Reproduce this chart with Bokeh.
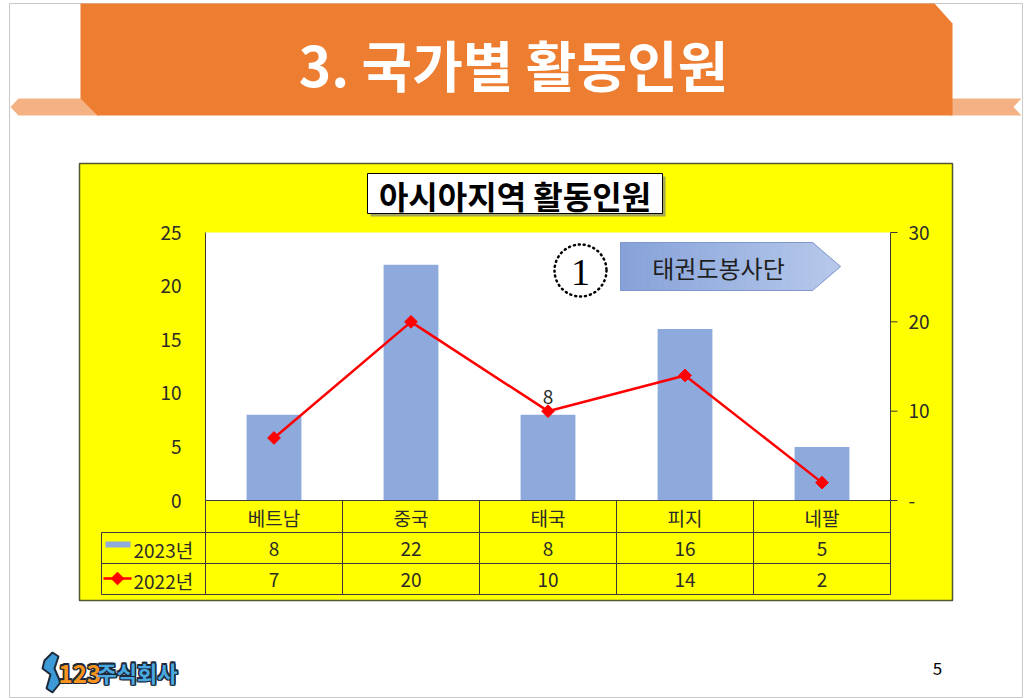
import numpy as np
from bokeh.plotting import figure
from bokeh.models import Range1d
from bokeh.core.properties import value
from bokeh.embed import file_html
from bokeh.resources import INLINE

# ---------------- data ----------------
categories = ["베트남", "중국", "태국", "피지", "네팔"]
series_2023_name = "2023년"
series_2022_name = "2022년"
values_2023 = [8, 22, 8, 16, 5]
values_2022 = [7, 20, 10, 14, 2]
left_ticks = [0, 5, 10, 15, 20, 25]
left_tick_labels = ["0", "5", "10", "15", "20", "25"]
right_ticks = [0, 10, 20, 30]
right_tick_labels = ["-", "10", "20", "30"]
slide_title = "3. 국가별 활동인원"
chart_title = "아시아지역 활동인원"
callout_number = "1"
callout_text = "태권도봉사단"
odd_label_category = "태국"
odd_label_text = "8"
page_number = "5"
logo_num = "123"
logo_word = "주식회사"

# ---------------- layout ----------------
W, H = 1029, 698
PL, PR, PT, PB = 205, 890, 232, 500      # plot area (pixels)
LEFT_MAX, RIGHT_MAX = 25, 30
ROW1, ROW2, ROW3, ROW4 = 500, 532, 563, 594
LEG_L = 101
FONT = "Noto Sans CJK KR"
TXT = "#2b2b2b"
GRID = "#3a3a3a"
NUM_FS = "19px"
TAB_FS = "19px"

n = len(categories)
idx = list(range(n))


def ext_range(va, pa, vb, pb, p_start, p_end):
    k = (vb - va) / (pb - pa)
    return Range1d(start=va + (p_start - pa) * k, end=va + (p_end - pa) * k)


p = figure(width=W, height=H, x_range=Range1d(0, W), y_range=Range1d(H, 0),
           output_backend="svg", toolbar_location=None, title=None,
           x_axis_type=None, y_axis_type=None, min_border=0,
           outline_line_color=None, background_fill_color="white",
           border_fill_color="white")
p.extra_x_ranges = {"cat": ext_range(-0.5, PL, n - 0.5, PR, 0, W)}
p.extra_y_ranges = {
    "left": ext_range(0, PB, LEFT_MAX, PT, H, 0),
    "right": ext_range(0, PB, RIGHT_MAX, PT, H, 0),
}

# slide frame
p.quad(left=9, right=1022, top=3, bottom=697, fill_color=None, line_color="#C8C8C8", line_width=1)

# ribbons + banner
p.patch([10, 18, 82, 99, 18], [106.5, 98, 98, 115, 115], fill_color="#F4B183", line_color=None)
p.patch([950, 1021, 1013, 1021, 950], [98, 98, 106.5, 115, 115], fill_color="#F4B183", line_color=None)
p.patch([80, 934, 952, 952, 97, 80], [3, 3, 23, 115, 115, 98], fill_color="#ED7D31", line_color=None)
p.text(x=[513], y=[62], text=[slide_title], text_color="white", text_font=value(FONT),
       text_font_style="bold", text_font_size="55px", text_align="center", text_baseline="middle")

# yellow chart box
p.quad(left=79, right=952, top=163, bottom=600, fill_color="#FFFF00", line_color="#555533", line_width=1.5)
p.quad(left=PL, right=PR, top=PT, bottom=PB, fill_color="white", line_color=None)

# bars & line
p.vbar(x=idx, top=values_2023, bottom=0, width=0.4, fill_color="#8EA9DB", line_color=None,
       x_range_name="cat", y_range_name="left")
p.line(x=idx, y=values_2022, line_color="#FF0000", line_width=2.5,
       x_range_name="cat", y_range_name="right")
p.scatter(x=idx, y=values_2022, marker="square", angle=np.pi / 4, size=9,
          fill_color="#FF0000", line_color="#FF0000", x_range_name="cat", y_range_name="right")
oi = categories.index(odd_label_category)
p.text(x=[oi], y=[values_2022[oi]], text=[odd_label_text], y_offset=-14, text_color=TXT,
       text_font=value(FONT), text_font_size=NUM_FS, text_align="center", text_baseline="middle",
       x_range_name="cat", y_range_name="right")

# axes
p.segment(x0=[PL], y0=[PT], x1=[PL], y1=[PB], line_color=GRID, line_width=1)
p.segment(x0=[PR], y0=[PT], x1=[PR], y1=[PB], line_color=GRID, line_width=1)
p.segment(x0=[PR] * len(right_ticks), x1=[PR + 7] * len(right_ticks), y0=right_ticks, y1=right_ticks,
          line_color=GRID, line_width=1, y_range_name="right")
p.text(x=[181] * len(left_ticks), y=left_ticks, text=left_tick_labels, text_color=TXT,
       text_font=value(FONT), text_font_size=NUM_FS, text_align="right", text_baseline="middle",
       y_range_name="left")
p.text(x=[908] * len(right_ticks), y=right_ticks, text=right_tick_labels, text_color=TXT,
       text_font=value(FONT), text_font_size=NUM_FS, text_align="left", text_baseline="middle",
       y_range_name="right")

# data table
p.segment(x0=[PL, LEG_L, LEG_L, LEG_L], x1=[PR] * 4, y0=[ROW1, ROW2, ROW3, ROW4],
          y1=[ROW1, ROW2, ROW3, ROW4], line_color=GRID, line_width=1)
p.segment(x0=[LEG_L], x1=[LEG_L], y0=[ROW2], y1=[ROW4], line_color=GRID, line_width=1)
bounds = [i - 0.5 for i in range(n + 1)]
p.segment(x0=bounds, x1=bounds, y0=[ROW1] * (n + 1), y1=[ROW4] * (n + 1), line_color=GRID,
          line_width=1, x_range_name="cat")
p.text(x=idx, y=[(ROW1 + ROW2) / 2 + 1] * n, text=categories, text_color=TXT, text_font=value(FONT),
       text_font_size=TAB_FS, text_align="center", text_baseline="middle", x_range_name="cat")
p.text(x=idx, y=[(ROW2 + ROW3) / 2 + 1] * n, text=[str(v) for v in values_2023], text_color=TXT,
       text_font=value(FONT), text_font_size=TAB_FS, text_align="center", text_baseline="middle",
       x_range_name="cat")
p.text(x=idx, y=[(ROW3 + ROW4) / 2 + 1] * n, text=[str(v) for v in values_2022], text_color=TXT,
       text_font=value(FONT), text_font_size=TAB_FS, text_align="center", text_baseline="middle",
       x_range_name="cat")
# legend keys
p.quad(left=105, right=130, top=541, bottom=547, fill_color="#8EA9DB", line_color=None)
p.segment(x0=[103], x1=[131], y0=[578], y1=[578], line_color="#FF0000", line_width=2.5)
p.scatter(x=[117], y=[578], marker="square", angle=np.pi / 4, size=9, fill_color="#FF0000",
          line_color="#FF0000")
p.text(x=[133, 133], y=[(ROW2 + ROW3) / 2 + 1, (ROW3 + ROW4) / 2 + 1],
       text=[series_2023_name, series_2022_name], text_color=TXT, text_font=value(FONT),
       text_font_size=TAB_FS, text_align="left", text_baseline="middle")

# chart title box
p.quad(left=370, right=665, top=176, bottom=216, fill_color="#808080", fill_alpha=0.7, line_color=None)
p.quad(left=367, right=662, top=173, bottom=213, fill_color="white", line_color="black", line_width=1)
p.text(x=[514.5], y=[194], text=[chart_title], text_color="black", text_font=value(FONT),
       text_font_style="bold", text_font_size="32px", text_align="center", text_baseline="middle")

# callout: dotted circle
p.circle(x=[580], y=[270], radius=26, fill_color=None, line_color="black", line_width=2.5,
         line_dash="1 4", line_cap="round")
p.text(x=[580], y=[272], text=[callout_number], text_color="black", text_font=value("Liberation Serif"),
       text_font_size="38px", text_align="center", text_baseline="middle")

# callout: pentagon arrow with a left-to-right gradient
AX0, AX1, ATIP, AYT, AYB = 620, 812, 840, 242, 290
AYM = (AYT + AYB) / 2
c0 = np.array([0x86, 0xA2, 0xD9])
c1 = np.array([0xB8, 0xCA, 0xEC])
N_STRIPS = 30
edges = np.linspace(AX0, ATIP, N_STRIPS + 1)


def half_h(x):
    if x <= AX1:
        return (AYB - AYT) / 2
    return (AYB - AYT) / 2 * (ATIP - x) / (ATIP - AX1)


sx, sy, sc = [], [], []
for i in range(N_STRIPS):
    a, b = edges[i], edges[i + 1]
    pts_x = [a]
    if a < AX1 < b:
        pts_x.append(AX1)
    pts_x.append(b)
    top = [(x, AYM - half_h(x)) for x in pts_x]
    bot = [(x, AYM + half_h(x)) for x in reversed(pts_x)]
    poly = top + bot
    sx.append([q[0] - (0.3 if i else 0) for q in poly])
    sy.append([q[1] for q in poly])
    t = (i + 0.5) / N_STRIPS
    c = (c0 + (c1 - c0) * t).astype(int)
    sc.append("#%02x%02x%02x" % tuple(c))
# widen each strip slightly to avoid hairline gaps
sx = [[v + (0.6 if k in (1, 2) or (len(xs) == 5 and k == 2) else 0) for k, v in enumerate(xs)] for xs in sx]
p.patches(xs=sx, ys=sy, fill_color=sc, line_color=sc, line_width=0.6)
p.patch([AX0, AX1, ATIP, AX1, AX0], [AYT, AYT, AYM, AYB, AYB], fill_color=None, line_color="#7F97CC",
        line_width=1)
p.text(x=[718], y=[267], text=[callout_text], text_color="#1F1F1F", text_font=value(FONT),
       text_font_size="24px", text_align="center", text_baseline="middle")

# page number
p.text(x=[937], y=[668], text=[page_number], text_color="black", text_font=value(FONT),
       text_font_size="17px", text_align="center", text_baseline="middle")

# logo
p.patch([44, 52, 58, 54, 60, 52, 46, 50, 42], [660, 652, 656, 668, 682, 692, 688, 674, 668],
        fill_color="#3C9AD6", line_color="#1E2A3A", line_width=2)
for dx, dy in [(-1.5, 0), (1.5, 0), (0, -1.5), (0, 1.5), (-1.2, -1.2), (1.2, 1.2), (-1.2, 1.2), (1.2, -1.2)]:
    p.text(x=[58 + dx], y=[673 + dy], text=[logo_num], text_color="#1E2A3A", text_font=value(FONT),
           text_font_style="bold", text_font_size="24px", text_align="left", text_baseline="middle")
    p.text(x=[96 + dx], y=[671 + dy], text=[logo_word], text_color="#1E2A3A", text_font=value(FONT),
           text_font_style="bold", text_font_size="22px", text_align="left", text_baseline="middle")
p.text(x=[58], y=[673], text=[logo_num], text_color="#F7941D", text_font=value(FONT),
       text_font_style="bold", text_font_size="24px", text_align="left", text_baseline="middle")
p.text(x=[96], y=[671], text=[logo_word], text_color="#49A9E0", text_font=value(FONT),
       text_font_style="bold", text_font_size="22px", text_align="left", text_baseline="middle")

open("out.html", "w").write(file_html(p, INLINE))
